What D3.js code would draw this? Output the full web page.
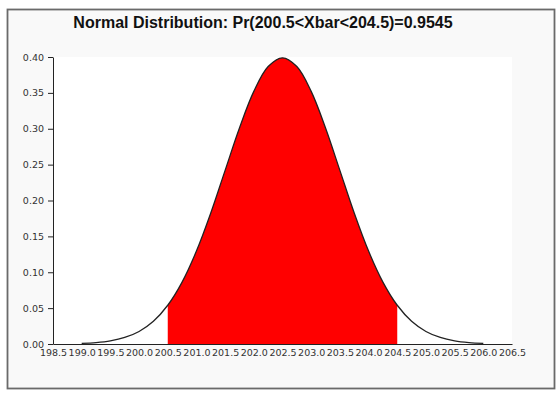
<!DOCTYPE html>
<html>
<head>
<meta charset="utf-8">
<script src="https://cdn.jsdelivr.net/npm/d3@7/dist/d3.min.js"></script>
<style>
  html, body { margin: 0; padding: 0; background: #ffffff; }
  svg { display: block; }
</style>
</head>
<body>
<svg id="chart" width="560" height="399"></svg>
<script>
// ---- data ----
const xValues = [199.0, 199.25, 199.5, 199.75, 200.0, 200.25, 200.5, 200.75, 201.0, 201.25,
                 201.5, 201.75, 202.0, 202.25, 202.5, 202.75, 203.0, 203.25, 203.5, 203.75,
                 204.0, 204.25, 204.5, 204.75, 205.0, 205.25, 205.5, 205.75, 206.0];
const densityValues = [0.0009, 0.0020, 0.0044, 0.0091, 0.0175, 0.0317, 0.0540, 0.0863, 0.1295, 0.1826,
                       0.2420, 0.3011, 0.3521, 0.3867, 0.3989, 0.3867, 0.3521, 0.3011, 0.2420, 0.1826,
                       0.1295, 0.0863, 0.0540, 0.0317, 0.0175, 0.0091, 0.0044, 0.0020, 0.0009];
const shadeRange = [200.5, 204.5];
const xTicks = [198.5, 199.0, 199.5, 200.0, 200.5, 201.0, 201.5, 202.0, 202.5, 203.0,
                203.5, 204.0, 204.5, 205.0, 205.5, 206.0, 206.5];
const yTicks = [0.00, 0.05, 0.10, 0.15, 0.20, 0.25, 0.30, 0.35, 0.40];
const titleText = "Normal Distribution: Pr(200.5<Xbar<204.5)=0.9545";

const points = xValues.map((x, i) => ({ x: x, y: densityValues[i] }));

const svg = d3.select("#chart");

// outer frame
svg.append("rect")
  .attr("x", 7.5).attr("y", 9.5).attr("width", 547).attr("height", 379)
  .attr("fill", "#f9f9f9").attr("stroke", "#6a6a6a").attr("stroke-width", 1.8);

const plot = { left: 53, right: 512, top: 57, bottom: 344 };

// plot area background
svg.append("rect")
  .attr("x", plot.left).attr("y", plot.top)
  .attr("width", plot.right - plot.left).attr("height", plot.bottom - plot.top)
  .attr("fill", "#ffffff");

const x = d3.scaleLinear().domain([198.5, 206.5]).range([plot.left, plot.right]);
const y = d3.scaleLinear().domain([0, 0.40]).range([plot.bottom, plot.top]);

// clip for shaded region
svg.append("clipPath").attr("id", "shadeClip")
  .append("rect")
  .attr("x", x(shadeRange[0])).attr("y", plot.top - 5)
  .attr("width", x(shadeRange[1]) - x(shadeRange[0]))
  .attr("height", plot.bottom - plot.top + 5);

const area = d3.area()
  .x(d => x(d.x)).y0(y(0)).y1(d => y(d.y))
  .curve(d3.curveCatmullRom);

svg.append("path")
  .datum(points)
  .attr("clip-path", "url(#shadeClip)")
  .attr("fill", "#ff0000")
  .attr("d", area);

const line = d3.line()
  .x(d => x(d.x)).y(d => y(d.y))
  .curve(d3.curveCatmullRom);

svg.append("path")
  .datum(points)
  .attr("fill", "none")
  .attr("stroke", "#222")
  .attr("stroke-width", 1.3)
  .attr("d", line);

// y axis
const yAxis = svg.append("g")
  .attr("transform", `translate(${plot.left},0)`)
  .call(d3.axisLeft(y).tickValues(yTicks).tickFormat(d3.format(".2f")).tickSize(5).tickPadding(4).tickSizeOuter(0));
yAxis.select(".domain").attr("stroke", "#222");
yAxis.selectAll(".tick line").attr("stroke", "#222");
yAxis.selectAll("text")
  .attr("font-family", "DejaVu Sans").attr("font-size", 9.5).attr("fill", "#333");

// x axis
const xAxis = svg.append("g")
  .attr("transform", `translate(0,${plot.bottom})`)
  .call(d3.axisBottom(x).tickValues(xTicks).tickFormat(d3.format(".1f")).tickSize(0).tickPadding(5).tickSizeOuter(0));
xAxis.select(".domain").attr("stroke", "#222");
xAxis.selectAll("text")
  .attr("font-family", "DejaVu Sans").attr("font-size", 9.5).attr("fill", "#333");

// title
svg.append("text")
  .attr("x", 263).attr("y", 28)
  .attr("text-anchor", "middle")
  .attr("font-family", "Liberation Sans, Arial, sans-serif")
  .attr("font-weight", "bold")
  .attr("font-size", 16)
  .attr("fill", "#111")
  .text(titleText);
</script>
</body>
</html>
